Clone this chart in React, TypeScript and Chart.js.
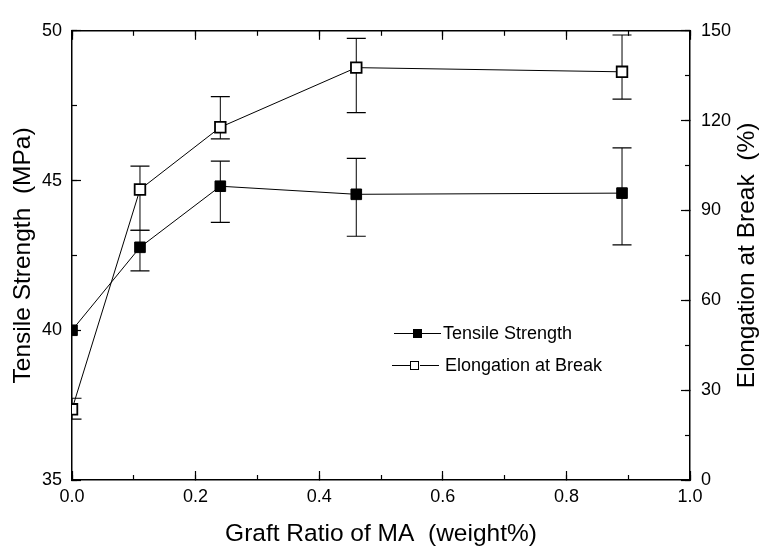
import React, { useEffect, useRef } from 'react';
import { Chart, registerables } from 'chart.js';

Chart.register(...registerables);

// ---- data ----
const seriesNames = ['Tensile Strength', 'Elongation at Break'];
const graftRatio = [0, 0.11, 0.24, 0.46, 0.89];
const tensile = [40.0, 42.77, 44.81, 44.54, 44.58];
const tensileHigh = [40.0, 43.34, 45.65, 45.74, 46.09];
const tensileLow = [40.0, 41.98, 43.6, 43.14, 42.85];
const elongation = [23.6, 97.0, 117.8, 137.7, 136.3];
const elongationHigh = [27.3, 104.8, 128.0, 147.5, 148.6];
const elongationLow = [20.3, 83.4, 113.9, 122.7, 127.2];

const xTitle = 'Graft Ratio of MA  (weight%)';
const yLeftTitle = 'Tensile Strength  (MPa)';
const yRightTitle = 'Elongation at Break  (%)';

const xMin = 0, xMax = 1.0, xMajor = 0.2, xMinor = 0.1;
const leftMin = 35, leftMax = 50, leftMajor = 5, leftMinor = 2.5;
const rightMin = 0, rightMax = 150, rightMajor = 30, rightMinor = 15;

const FONT = "'Liberation Sans', Arial, Helvetica, sans-serif";
const TICK_SIZE = 18;
const TITLE_SIZE = 24.5;

function errorPoints(xs: number[], lo: number[], hi: number[]) {
  const pts: { x: number; y: number | null }[] = [];
  xs.forEach((x, i) => {
    if (hi[i] === lo[i]) return;
    pts.push({ x, y: lo[i] }, { x, y: hi[i] }, { x, y: null });
  });
  return pts;
}

function pairs(xs: number[], ys: number[]) {
  return xs.map((x, i) => ({ x, y: ys[i] }));
}

function minorAxis(position: string, min: number, max: number, step: number, horizontal: boolean) {
  return {
    type: 'linear',
    position,
    min,
    max,
    weight: -1,
    ticks: { display: false, stepSize: step },
    grid: { drawOnChartArea: false, tickLength: -5, color: '#000', tickWidth: 1.2 },
    border: { display: false },
    afterFit: (s: any) => {
      if (horizontal) s.height = 0;
      else s.width = 0;
    },
  };
}

// right-hand title, drawn reading bottom-to-top like the reference
const rightTitlePlugin = {
  id: 'rightTitle',
  afterDraw(chart: any) {
    const s = chart.scales.y2;
    if (!s) return;
    const ctx = chart.ctx;
    ctx.save();
    ctx.font = `${TITLE_SIZE}px ${FONT}`;
    ctx.fillStyle = '#000';
    ctx.textAlign = 'center';
    ctx.textBaseline = 'middle';
    ctx.translate(s.right - 14, (s.top + s.bottom) / 2);
    ctx.rotate(-Math.PI / 2);
    ctx.fillText(yRightTitle, 0, 0);
    ctx.restore();
  },
};

export default function App() {
  const ref = useRef<HTMLCanvasElement | null>(null);

  useEffect(() => {
    if (!ref.current) return;
    const chart = new Chart(ref.current, {
      type: 'line',
      data: {
        datasets: [
          {
            label: seriesNames[0],
            data: pairs(graftRatio, tensile),
            xAxisID: 'x',
            yAxisID: 'y',
            borderColor: '#000',
            borderWidth: 1,
            pointStyle: 'rect',
            pointRadius: 7.5,
            pointBackgroundColor: '#000',
            pointBorderColor: '#000',
            pointBorderWidth: 1,
            tension: 0,
            order: 0,
          },
          {
            label: seriesNames[1],
            data: pairs(graftRatio, elongation),
            xAxisID: 'x',
            yAxisID: 'y2',
            borderColor: '#000',
            borderWidth: 1,
            pointStyle: 'rect',
            pointRadius: 7.5,
            pointBackgroundColor: '#fff',
            pointBorderColor: '#000',
            pointBorderWidth: 1.8,
            tension: 0,
            order: 0,
          },
          {
            label: 'err1',
            data: errorPoints(graftRatio, tensileLow, tensileHigh),
            xAxisID: 'x',
            yAxisID: 'y',
            borderColor: '#000',
            borderWidth: 1,
            pointStyle: 'line',
            pointRadius: 9.5,
            pointBorderColor: '#000',
            pointBorderWidth: 1.2,
            spanGaps: false,
            order: 2,
          },
          {
            label: 'err2',
            data: errorPoints(graftRatio, elongationLow, elongationHigh),
            xAxisID: 'x',
            yAxisID: 'y2',
            borderColor: '#000',
            borderWidth: 1,
            pointStyle: 'line',
            pointRadius: 9.5,
            pointBorderColor: '#000',
            pointBorderWidth: 1.2,
            spanGaps: false,
            order: 2,
          },
        ],
      },
      options: {
        responsive: false,
        animation: false,
        events: [],
        layout: { padding: 0 },
        plugins: { legend: { display: false }, tooltip: { enabled: false } },
        scales: {
          x: {
            type: 'linear',
            position: 'bottom',
            min: xMin,
            max: xMax,
            weight: 0,
            ticks: {
              stepSize: xMajor,
              padding: 15,
              color: '#000',
              font: { family: FONT, size: TICK_SIZE },
              callback: (v: any) => Number(v).toFixed(1),
              maxRotation: 0,
              autoSkip: false,
            },
            grid: { drawOnChartArea: false, tickLength: -9, color: '#000', tickWidth: 1.2 },
            border: { display: true, color: '#000', width: 1.5 },
            title: {
              display: true,
              text: xTitle,
              color: '#000',
              font: { family: FONT, size: TITLE_SIZE, lineHeight: 1.2 },
              padding: { top: 0, bottom: 0 },
            },
            afterFit: (s: any) => { s.height = 69; },
          },
          xMinor: minorAxis('bottom', xMin, xMax, xMinor, true),
          xTop: {
            type: 'linear',
            position: 'top',
            min: xMin,
            max: xMax,
            weight: 0,
            ticks: { display: false, stepSize: xMajor },
            grid: { drawOnChartArea: false, tickLength: -9, color: '#000', tickWidth: 1.2 },
            border: { display: true, color: '#000', width: 1.5 },
            afterFit: (s: any) => { s.height = 20; },
          },
          xTopMinor: minorAxis('top', xMin, xMax, xMinor, true),
          y: {
            type: 'linear',
            position: 'left',
            min: leftMin,
            max: leftMax,
            weight: 0,
            ticks: {
              stepSize: leftMajor,
              padding: 19,
              color: '#000',
              font: { family: FONT, size: TICK_SIZE },
            },
            grid: { drawOnChartArea: false, tickLength: -9, color: '#000', tickWidth: 1.2 },
            border: { display: true, color: '#000', width: 1.5 },
            title: {
              display: true,
              text: yLeftTitle,
              color: '#000',
              font: { family: FONT, size: TITLE_SIZE, lineHeight: 1.2 },
              padding: { top: 9, bottom: 0 },
            },
            afterFit: (s: any) => { s.width = 72; },
          },
          yMinor: minorAxis('left', leftMin, leftMax, leftMinor, false),
          y2: {
            type: 'linear',
            position: 'right',
            min: rightMin,
            max: rightMax,
            weight: 0,
            ticks: {
              stepSize: rightMajor,
              padding: 20,
              color: '#000',
              font: { family: FONT, size: TICK_SIZE },
            },
            grid: { drawOnChartArea: false, tickLength: -9, color: '#000', tickWidth: 1.2 },
            border: { display: true, color: '#000', width: 1.5 },
            title: { display: false },
            afterFit: (s: any) => { s.width = 71; },
          },
          y2Minor: minorAxis('right', rightMin, rightMax, rightMinor, false),
        },
      } as any,
      plugins: [rightTitlePlugin],
    });
    return () => chart.destroy();
  }, []);

  const lineStyle: React.CSSProperties = { width: 19, height: 1, background: '#000' };
  const rowStyle: React.CSSProperties = {
    position: 'absolute',
    display: 'flex',
    alignItems: 'center',
    height: 22,
    fontFamily: FONT,
    fontSize: 18,
    color: '#000',
    whiteSpace: 'nowrap',
  };

  return (
    <div style={{ position: 'absolute', left: 0, top: 0, width: 761, height: 549, background: '#fff' }}>
      <canvas ref={ref} width={761} height={549} style={{ display: 'block' }} />
      <div style={{ ...rowStyle, left: 394, top: 333 - 11 }}>
        <div style={lineStyle} />
        <div style={{ width: 9, height: 9, background: '#000' }} />
        <div style={lineStyle} />
        <span style={{ marginLeft: 2 }}>{seriesNames[0]}</span>
      </div>
      <div style={{ ...rowStyle, left: 392, top: 365 - 11 }}>
        <div style={{ ...lineStyle, width: 18 }} />
        <div style={{ width: 9, height: 9, boxSizing: 'border-box', border: '1.5px solid #000', background: '#fff' }} />
        <div style={{ ...lineStyle, marginLeft: 1 }} />
        <span style={{ marginLeft: 6 }}>{seriesNames[1]}</span>
      </div>
    </div>
  );
}
